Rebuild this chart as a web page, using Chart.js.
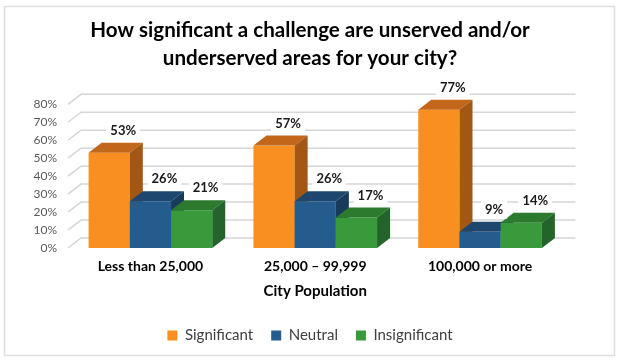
<!DOCTYPE html>
<html>
<head>
<meta charset="utf-8">
<script src="https://cdn.jsdelivr.net/npm/chart.js@4.4.1/dist/chart.umd.min.js"></script>
<style>
  html, body { margin: 0; padding: 0; background: #fff; }
  #wrap { width: 620px; height: 361px; }
</style>
</head>
<body>
<div id="wrap"><canvas id="c" width="620" height="361"></canvas></div>
<script>
// ---- data ----
const categories = ['Less than 25,000', '25,000 \u2013 99,999', '100,000 or more'];
const significant = [53, 57, 77];
const neutral = [26, 26, 9];
const insignificant = [21, 17, 14];
const seriesNames = ['Significant', 'Neutral', 'Insignificant'];
const chartTitle = ['How significant a challenge are unserved and/or', 'underserved areas for your city?'];
const axisTitle = 'City Population';
const yTickMax = 80;
const yTickStep = 10;

// ---- styles ----
const FONT = 'Lato, "Open Sans", sans-serif';
const faces = [
  { front: '#F98F21', top: '#C2661A', side: '#A25714' },
  { front: '#245C8E', top: '#1E4770', side: '#183B5C' },
  { front: '#389A3A', top: '#2B7A2D', side: '#22642A' }
];
const DX = 13, DY = -10;

const threeD = {
  id: 'threeD',
  beforeDraw(chart) {
    const ctx = chart.ctx;
    ctx.save();
    ctx.fillStyle = '#fff';
    ctx.fillRect(0, 0, chart.width, chart.height);
    ctx.strokeStyle = '#dedede';
    ctx.lineWidth = 1.5;
    ctx.strokeRect(4.5, 6.5, 610, 349);
    ctx.restore();
  },
  beforeDatasetsDraw(chart) {
    const ctx = chart.ctx;
    const ys = chart.scales.y;
    const area = chart.chartArea;
    ctx.save();
    ctx.strokeStyle = '#d6d6d6';
    ctx.lineWidth = 1.5;
    for (let v = 0; v <= yTickMax; v += yTickStep) {
      const y = ys.getPixelForValue(v);
      ctx.beginPath();
      ctx.moveTo(area.left, y);
      ctx.lineTo(area.left + DX, y + DY);
      ctx.lineTo(area.right + DX, y + DY);
      ctx.stroke();
    }
    ctx.restore();
  },
  beforeDatasetDraw() { return false; },
  afterDatasetsDraw(chart) {
    const ctx = chart.ctx;
    ctx.save();
    chart.data.datasets.forEach((ds, i) => {
      const meta = chart.getDatasetMeta(i);
      const f = faces[i];
      meta.data.forEach((el) => {
        const p = el.getProps(['x', 'y', 'base', 'width'], true);
        const l = p.x - p.width / 2, r = p.x + p.width / 2;
        const t = p.y, b = p.base;
        ctx.fillStyle = f.front;
        ctx.fillRect(l, t, r - l, b - t);
        ctx.fillStyle = f.top;
        ctx.beginPath();
        ctx.moveTo(l, t); ctx.lineTo(r, t); ctx.lineTo(r + DX, t + DY); ctx.lineTo(l + DX, t + DY);
        ctx.closePath(); ctx.fill();
        ctx.fillStyle = f.side;
        ctx.beginPath();
        ctx.moveTo(r, t); ctx.lineTo(r + DX, t + DY); ctx.lineTo(r + DX, b + DY); ctx.lineTo(r, b);
        ctx.closePath(); ctx.fill();
      });
    });
    // data labels
    ctx.font = 'bold 13px ' + FONT;
    ctx.textAlign = 'center';
    ctx.textBaseline = 'middle';
    chart.data.datasets.forEach((ds, i) => {
      const meta = chart.getDatasetMeta(i);
      meta.data.forEach((el, j) => {
        const p = el.getProps(['x', 'y'], true);
        const txt = ds.data[j] + '%';
        const cx = p.x + 14;
        const cy = p.y + DY - 12;
        const w = ctx.measureText(txt).width + 8;
        ctx.fillStyle = '#fff';
        ctx.fillRect(cx - w / 2, cy - 9, w, 18);
        ctx.fillStyle = '#1a1a1a';
        ctx.fillText(txt, cx, cy);
      });
    });
    ctx.restore();
  }
};

const datasets = [significant, neutral, insignificant].map((d, i) => ({
  label: seriesNames[i],
  data: d,
  backgroundColor: faces[i].front,
  borderWidth: 0
}));

new Chart(document.getElementById('c'), {
  type: 'bar',
  data: { labels: categories, datasets },
  plugins: [threeD],
  options: {
    responsive: false,
    animation: false,
    events: [],
    layout: { padding: { left: 0, right: 0, top: 0, bottom: 8 } },
    datasets: { bar: { categoryPercentage: 0.75, barPercentage: 1 } },
    scales: {
      x: {
        grid: { display: false, drawTicks: false },
        border: { display: false },
        ticks: { font: { family: FONT, size: 14, weight: 'bold' }, color: '#000', padding: 10, autoSkip: false, maxRotation: 0 },
        title: { display: true, text: axisTitle, font: { family: FONT, size: 15, weight: 'bold' }, color: '#000', padding: { top: 0, bottom: 9.6 } },
        afterFit(scale) { scale.height = 62; }
      },
      y: {
        min: 0, max: yTickMax,
        grid: { display: false, drawTicks: false },
        border: { display: false },
        ticks: { stepSize: yTickStep, autoSkip: false, callback: (v) => v + '%', font: { family: FONT, size: 12 }, color: '#595959', padding: 11 },
        afterFit(scale) { scale.width = 68; }
      },
      y2: {
        position: 'right',
        min: 0, max: 1,
        grid: { display: false, drawTicks: false },
        border: { display: false },
        ticks: { display: false },
        afterFit(scale) { scale.width = 57.5; }
      }
    },
    plugins: {
      tooltip: { enabled: false },
      title: {
        display: true,
        text: chartTitle,
        font: { family: FONT, size: 20.6, weight: 'bold', lineHeight: 1.33 },
        color: '#000',
        padding: { top: 17, bottom: 32.5 }
      },
      legend: {
        position: 'bottom',
        labels: { font: { family: FONT, size: 15 }, color: '#404040', boxWidth: 10, boxHeight: 10, padding: 18 }
      }
    }
  }
});
</script>
</body>
</html>
